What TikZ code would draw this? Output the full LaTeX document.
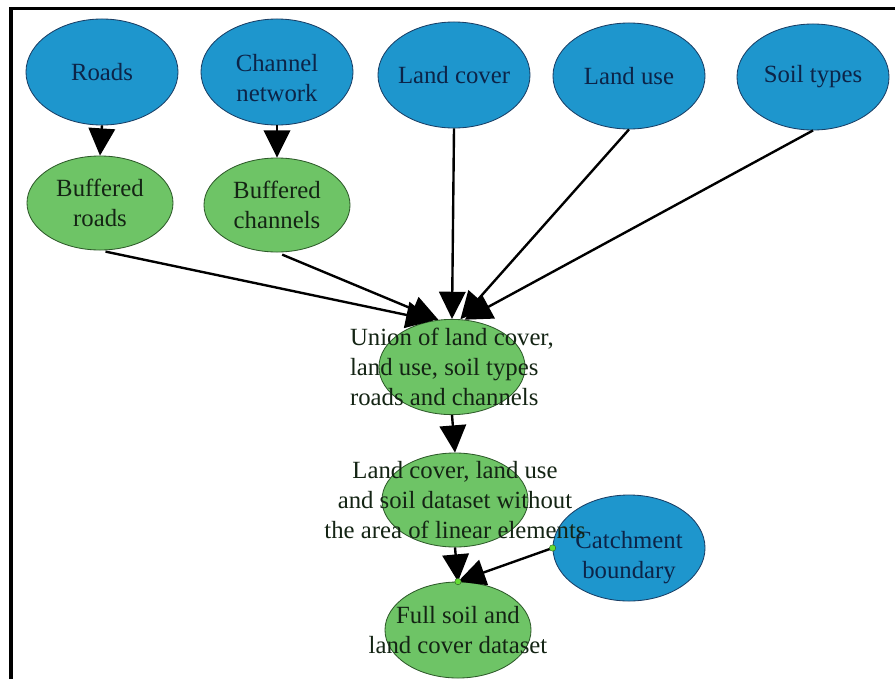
\documentclass[tikz,border=0pt]{standalone}
\usepackage{fontspec}
\setmainfont{Liberation Serif}
\usetikzlibrary{arrows.meta,shapes.geometric}
\definecolor{bluefill}{HTML}{1E96CD}
\definecolor{blueline}{HTML}{1A3F66}
\definecolor{bluetext}{HTML}{0C2448}
\definecolor{greenfill}{HTML}{6EC466}
\definecolor{greenline}{HTML}{2E5A2A}
\definecolor{greentext}{HTML}{142414}
\definecolor{dotgreen}{HTML}{66DD33}
\tikzset{
	blob/.style={ellipse, inner sep=0pt, line width=0.6pt},
	blueblob/.style={blob, draw=blueline, fill=bluefill, minimum width=3.8cm, minimum height=2.65cm},
	greenblob/.style={blob, draw=greenline, fill=greenfill, minimum width=3.65cm, minimum height=2.35cm},
	bluelbl/.style={text=bluetext, align=center, font=\fontsize{17.6pt}{21.3pt}\selectfont},
	greenlbl/.style={text=greentext, align=center, font=\fontsize{17.6pt}{21.3pt}\selectfont},
	flow/.style={line width=1.7pt, -{Triangle[length=0.68cm, width=0.66cm]}},
	frame/.style={line width=0.075cm},
	joint/.style={circle, fill=dotgreen, draw=greenline, line width=0.3pt, inner sep=0pt, minimum size=0.16cm}
}

\begin{document}
\begin{tikzpicture}[x=0.025cm, y=-0.025cm]
			%%%%% START %%%%%
			\useasboundingbox (0,0) rectangle (895,679);
			\draw[frame] (11,679) -- (11,8) -- (895,8);
			
			% inputs
			\node[blueblob, label={[bluelbl]center:Roads}] (roads) at (102,72) {};
			\node[blueblob, label={[bluelbl, yshift=-0.15cm]center:Channel\\network}] (channel) at (277,72) {};
			\node[blueblob, label={[bluelbl]center:Land cover}] (landcover) at (454,75) {};
			\node[blueblob, label={[bluelbl]center:Land use}] (landuse) at (629,76) {};
			\node[blueblob, label={[bluelbl]center:Soil types}] (soiltypes) at (813,77) {};
			\node[blueblob, label={[bluelbl, yshift=-0.25cm]center:Catchment\\boundary}] (catchment) at (629,548) {};
			
			\node[greenblob, label={[greenlbl]center:Buffered\\roads}] (broads) at (100,203) {};
			\node[greenblob, label={[greenlbl]center:Buffered\\channels}] (bchannels) at (277,205) {};
			
			% overlay steps
			\node[greenblob, minimum height=2.38cm, label={[greenlbl, align=left]center:Union of land cover,\\land use, soil types\\roads and channels}] (union) at (452,367) {};
			\node[greenblob, label={[greenlbl]center:Land cover, land use\\and soil dataset without\\the area of linear elements}] (nolinear) at (455,500) {};
			\node[greenblob, minimum height=2.4cm, label={[greenlbl]center:Full soil and\\land cover dataset}] (fullsoil) at (458,630) {};
			
			\draw[flow] (roads.south) -- (broads.north);
			\draw[flow] (channel.south) -- (bchannels.north);
			\draw[flow, shorten <=4pt] (broads.south) -- (union.112);
			\draw[flow, shorten <=4pt] (bchannels.south) -- (union.106);
			\draw[flow] (landcover.south) -- (union.north);
			\draw[flow] (landuse.south) -- (union.80);
			\draw[flow] (soiltypes.south) -- (union.75);
			\draw[flow] (union.south) -- (nolinear.north);
			\draw[flow] (nolinear.south) -- (fullsoil.north);
			\draw[flow] (catchment.west) -- (fullsoil.north);
			
			\node[joint] (jcatch) at (catchment.west) {};
			\node[joint] (jfull) at (fullsoil.north) {};
			%%%%% END %%%%%
\end{tikzpicture}
\end{document}
